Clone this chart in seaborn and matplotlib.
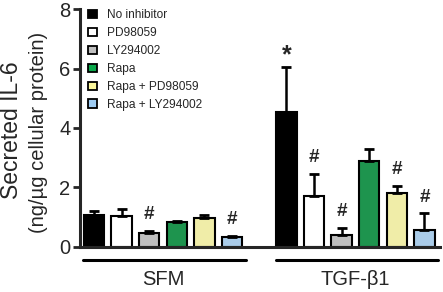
import matplotlib
matplotlib.use("Agg")
import matplotlib.pyplot as plt
import matplotlib.transforms as mtransforms
from matplotlib.patches import Patch
import numpy as np
import pandas as pd
import seaborn as sns

# datos
conditions = ["SFM", "TGF-\u03b21"]
inhibitors = ["No inhibitor", "PD98059", "LY294002", "Rapa",
              "Rapa + PD98059", "Rapa + LY294002"]
colors = ["#000000", "#ffffff", "#bfbfbf", "#0aa84a", "#fcf89c", "#9fcdf4"]

sfm_mean = [1.07, 1.02, 0.45, 0.84, 0.96, 0.34]
sfm_err = [0.13, 0.25, 0.09, 0.04, 0.12, 0.03]
tgf_mean = [4.53, 1.71, 0.39, 2.90, 1.80, 0.56]
tgf_err = [1.53, 0.73, 0.23, 0.38, 0.25, 0.56]

# marcas: "*" vs SFM, "#" vs sin inhibidor
sfm_marks = ["", "", "#", "", "", "#"]
tgf_marks = ["*", "#", "#", "", "#", "#"]

df = pd.DataFrame({
    "Condicion": [conditions[0]] * 6 + [conditions[1]] * 6,
    "Inhibidor": inhibitors * 2,
    "IL6": sfm_mean + tgf_mean,
    "Err": sfm_err + tgf_err,
    "Marca": sfm_marks + tgf_marks,
})

sns.set_style("ticks")
plt.rcParams["font.family"] = ["Liberation Sans", "DejaVu Sans"]

fig = plt.figure(figsize=(4.43, 2.92), dpi=100)
ax = fig.add_axes([0.1806, 0.1551, 0.8126, 0.8137])

sns.barplot(data=df, x="Condicion", y="IL6", hue="Inhibidor",
            order=conditions, hue_order=inhibitors,
            palette=colors, width=0.86, gap=0.26,
            edgecolor="black", linewidth=1.5, errorbar=None,
            legend=False, ax=ax)

# barras de error (solo hacia arriba) y marcas
bar_groups = list(ax.containers)
for i, cont in enumerate(bar_groups):
    for j, bar in enumerate(cont):
        row = df[(df.Condicion == conditions[j]) & (df.Inhibidor == inhibitors[i])].iloc[0]
        xc = bar.get_x() + bar.get_width() / 2
        h = bar.get_height()
        ax.errorbar(xc, h, yerr=[[0], [row.Err]], fmt="none", ecolor="black",
                    elinewidth=1.8, capsize=3.8, capthick=2, zorder=1)
        if row.Marca == "*":
            ax.text(xc, h + row.Err + 0.38, "*", ha="center", va="center",
                    fontsize=18, fontweight="bold")
        elif row.Marca == "#":
            ax.text(xc, h + row.Err + 0.55, "#", ha="center", va="center",
                    fontsize=13.5, fontweight="bold")

ax.set_ylim(0, 8)
ax.set_xlim(-0.431, 1.439)
ax.set_yticks([0, 2, 4, 6, 8])
ax.tick_params(axis="y", labelsize=14.5, width=2, length=5, pad=2)
ax.set_xticks([])
ax.set_xlabel("")
ax.set_ylabel("")
for s in ["top", "right"]:
    ax.spines[s].set_visible(False)
ax.spines["left"].set_linewidth(2.2)
ax.spines["bottom"].set_linewidth(2.2)

# lineas de grupo bajo el eje
trans = mtransforms.blended_transform_factory(ax.transData, ax.transAxes)
for k, name in enumerate(conditions):
    ax.plot([k - 0.415, k + 0.43], [-0.056, -0.056], color="black", lw=2.2,
            transform=trans, clip_on=False)
    ax.text(k, -0.14, name, ha="center", va="center", fontsize=14.5,
            transform=trans)

# leyenda
handles = [Patch(facecolor=c, edgecolor="black", linewidth=1.3) for c in colors]
ax.legend(handles, inhibitors, loc="upper left", bbox_to_anchor=(0.0, 1.035),
          frameon=False, fontsize=8.6, handlelength=0.75, handleheight=0.75,
          handletextpad=0.85, labelspacing=0.5, borderaxespad=0.3)

# etiqueta del eje y en dos tamanos
fig.text(0.025, 0.555, "Secreted IL-6", rotation=90, ha="center",
         va="center", fontsize=16.5)
fig.text(0.0858, 0.546, "(ng/\u00b5g cellular protein)", rotation=90,
         ha="center", va="center", fontsize=14.5)

plt.savefig("out.png", dpi=100)
